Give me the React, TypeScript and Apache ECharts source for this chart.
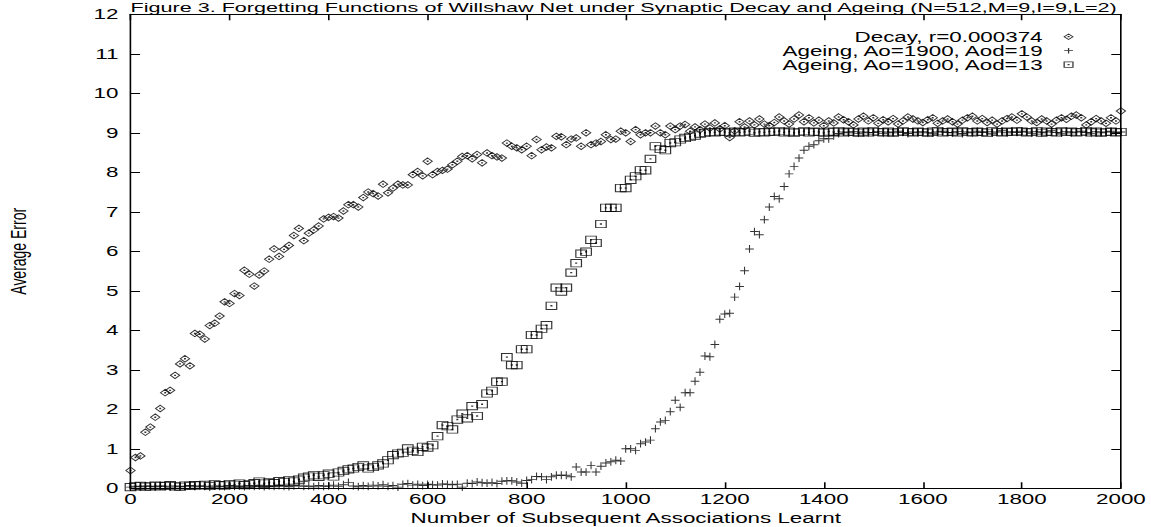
import React, { useEffect, useRef } from "react";
import * as echarts from "echarts";

// The reference image is horizontally stretched (fonts and markers are wider than tall),
// so the chart is drawn at a narrower width and stretched with a CSS scaleX.
const SX = 1.6;
const FULL_W = 1151;
const FULL_H = 527;
const W = FULL_W / SX;

const FONT = '"Liberation Sans", Arial, Helvetica, sans-serif';

const TITLE = "Figure 3. Forgetting Functions of Willshaw Net under Synaptic Decay and Ageing (N=512,M=9,I=9,L=2)";
const X_NAME = "Number of Subsequent Associations Learnt";
const Y_NAME = "Average Error";

const SERIES_NAMES = ["Decay, r=0.000374", "Ageing, Ao=1900, Aod=19", "Ageing, Ao=1900, Aod=13"];

// sampled every 10 associations, from 0 to 2000
const X_STEP = 10;

const decay = [
  0.45, 0.78, 0.82, 1.42, 1.55, 1.80, 2.02, 2.42, 2.48, 2.86,
  3.15, 3.28, 3.10, 3.92, 3.90, 3.78, 4.12, 4.18, 4.36, 4.72,
  4.68, 4.93, 4.88, 5.52, 5.42, 5.12, 5.40, 5.50, 5.80, 6.06,
  5.87, 6.05, 6.15, 6.40, 6.58, 6.27, 6.46, 6.54, 6.64, 6.82,
  6.86, 6.88, 6.84, 7.02, 7.18, 7.18, 7.12, 7.36, 7.50, 7.46,
  7.40, 7.70, 7.48, 7.60, 7.70, 7.68, 7.68, 7.94, 8.02, 7.91,
  8.28, 7.94, 8.02, 8.05, 8.08, 8.19, 8.28, 8.40, 8.42, 8.34,
  8.45, 8.24, 8.49, 8.42, 8.39, 8.36, 8.74, 8.66, 8.62, 8.57,
  8.66, 8.42, 8.83, 8.57, 8.64, 8.62, 8.91, 8.90, 8.70, 8.84,
  8.87, 8.66, 9.00, 8.70, 8.74, 8.78, 8.95, 8.83, 8.84, 9.04,
  9.00, 8.78, 9.08, 8.95, 9.00, 9.00, 9.17, 9.00, 8.95, 9.17,
  9.08, 9.17, 9.21, 9.04, 9.15, 9.08, 9.22, 9.12, 9.25, 9.10,
  9.18, 8.88, 9.05, 9.28, 9.15, 9.30, 9.20, 9.35, 9.22, 9.18,
  9.26, 9.40, 9.30, 9.22, 9.35, 9.45, 9.28, 9.38, 9.25, 9.32,
  9.18, 9.30, 9.25, 9.40, 9.33, 9.28, 9.20, 9.35, 9.42, 9.30,
  9.38, 9.24, 9.33, 9.28, 9.36, 9.22, 9.30, 9.40, 9.35, 9.30,
  9.26, 9.33, 9.38, 9.24, 9.30, 9.35, 9.28, 9.22, 9.32, 9.38,
  9.42, 9.30, 9.36, 9.26, 9.32, 9.22, 9.30, 9.36, 9.40, 9.32,
  9.48, 9.40, 9.30, 9.26, 9.35, 9.30, 9.22, 9.32, 9.38, 9.34,
  9.42, 9.45, 9.38, 9.20, 9.28, 9.36, 9.30, 9.24, 9.38, 9.30,
  9.55,
];

const ageing19 = [
  0.03, 0.05, 0.04, 0.06, 0.05, 0.04, 0.06, 0.05, 0.03, 0.06,
  0.04, 0.05, 0.07, 0.04, 0.06, 0.05, 0.03, 0.06, 0.05, 0.04,
  0.07, 0.05, 0.06, 0.04, 0.07, 0.05, 0.06, 0.04, 0.06, 0.05,
  0.07, 0.05, 0.04, 0.06, 0.08, 0.05, 0.06, 0.04, 0.07, 0.05,
  0.06, 0.08, 0.05, 0.09, 0.15, 0.06, 0.04, 0.07, 0.05, 0.08,
  0.06, 0.09, 0.05, 0.07, 0.03, 0.10, 0.12, 0.08, 0.10, 0.07,
  0.10, 0.09, 0.08, 0.11, 0.10, 0.09, 0.10, 0.03, 0.13, 0.12,
  0.16, 0.14, 0.13, 0.15, 0.12, 0.18, 0.19, 0.19, 0.16, 0.13,
  0.20, 0.22, 0.30, 0.29, 0.22, 0.29, 0.33, 0.33, 0.33, 0.29,
  0.54, 0.41, 0.41, 0.58, 0.41, 0.56, 0.64, 0.67, 0.71, 0.69,
  1.00, 1.00, 0.96, 1.13, 1.17, 1.22, 1.51, 1.68, 1.72, 1.94,
  2.23, 2.05, 2.42, 2.42, 2.71, 2.94, 3.35, 3.33, 3.64, 4.28,
  4.41, 4.43, 4.84, 5.11, 5.51, 6.06, 6.50, 6.42, 6.80, 7.12,
  7.39, 7.33, 7.64, 7.96, 8.15, 8.36, 8.56, 8.66, 8.70, 8.80,
  8.85, 8.85, 8.92, 8.98, 9.02, 9.00, 9.03, 8.99, 9.02, 9.00,
  9.01, 9.03, 8.99, 9.02, 9.00, 9.04, 9.01, 8.98, 9.02, 9.00,
  9.03, 9.00, 8.99, 9.02, 9.04, 9.01, 9.00, 9.03, 8.98, 9.02,
  9.00, 9.04, 9.01, 9.03, 8.99, 9.02, 9.05, 9.00, 9.03, 9.01,
  9.04, 9.02, 8.99, 9.03, 9.00, 9.02, 9.05, 9.01, 8.99, 9.03,
  9.00, 9.02, 9.04, 9.01, 8.99, 9.03, 9.00, 9.02, 9.04, 9.01,
  9.02,
];

const ageing13 = [
  0.03, 0.05, 0.06, 0.04, 0.05, 0.07, 0.05, 0.06, 0.08, 0.05,
  0.04, 0.07, 0.06, 0.08, 0.07, 0.09, 0.06, 0.10, 0.08, 0.07,
  0.11, 0.09, 0.12, 0.08, 0.11, 0.13, 0.17, 0.12, 0.15, 0.13,
  0.18, 0.16, 0.20, 0.17, 0.22, 0.27, 0.30, 0.33, 0.29, 0.33,
  0.37, 0.30, 0.40, 0.44, 0.48, 0.50, 0.54, 0.58, 0.50, 0.54,
  0.58, 0.63, 0.71, 0.84, 0.88, 0.90, 1.01, 0.95, 0.92, 1.05,
  1.03, 1.09, 1.32, 1.60, 1.57, 1.49, 1.74, 1.89, 1.77, 2.08,
  1.83, 2.13, 2.40, 2.47, 2.70, 2.70, 3.32, 3.12, 3.12, 3.52,
  3.52, 3.88, 3.88, 4.04, 4.13, 4.62, 5.08, 4.98, 5.08, 5.46,
  5.70, 5.94, 5.99, 6.29, 6.21, 6.69, 7.10, 7.10, 7.10, 7.60,
  7.60, 7.81, 7.90, 8.05, 8.05, 8.34, 8.66, 8.59, 8.56, 8.74,
  8.76, 8.83, 8.87, 8.90, 8.93, 8.98, 9.00, 9.02, 9.01, 9.03,
  9.02, 9.00, 9.03, 9.01, 9.02, 9.04, 9.00, 9.02, 9.01, 9.03,
  9.02, 9.04, 9.01, 9.03, 9.00, 9.02, 9.04, 9.01, 9.03, 9.02,
  9.00, 9.03, 9.02, 9.04, 9.01, 9.03, 9.02, 9.00, 9.03, 9.01,
  9.04, 9.02, 9.01, 9.03, 9.00, 9.02, 9.04, 9.02, 9.01, 9.03,
  9.02, 9.00, 9.03, 9.04, 9.01, 9.02, 9.03, 9.01, 9.04, 9.02,
  9.01, 9.03, 9.02, 9.00, 9.04, 9.02, 9.01, 9.03, 9.02, 9.04,
  9.03, 9.01, 9.02, 9.04, 9.00, 9.03, 9.02, 9.01, 9.04, 9.02,
  9.03, 9.01, 9.02, 9.04, 9.01, 9.03, 9.00, 9.02, 9.03, 9.01,
  9.02,
];

const X_MIN = 0, X_MAX = 2000, X_INTERVAL = 200;
const Y_MIN = 0, Y_MAX = 12, Y_INTERVAL = 1;

const DIAMOND = "path://M5,0L10,5L5,10L0,5Z M4.6,4.6L5.4,4.6L5.4,5.4L4.6,5.4Z";
const PLUS = "path://M0,5L10,5M5,0L5,10";
const SQUARE = "path://M0,0L10,0L10,10L0,10Z M4.6,4.6L5.4,4.6L5.4,5.4L4.6,5.4Z";

const toPairs = (vals: number[]) => vals.map((v, i) => [i * X_STEP, v]);

const GRID = { left: 130.5 / SX, right: 29.5 / SX, top: 14.3, bottom: 38.7 };

const markerStyle = { color: "transparent", borderColor: "#000", borderWidth: 0.8 };

function buildOption(): any {
  const axisCommon = {
    type: "value",
    axisLine: { show: true, onZero: false, lineStyle: { color: "#000", width: 1 } },
    axisTick: { show: true, inside: true, length: 6, lineStyle: { color: "#000", width: 1 } },
    splitLine: { show: false },
  };
  const labelStyle = { color: "#000", fontSize: 14, fontFamily: FONT };
  const plotCenterX = GRID.left + (W - GRID.left - GRID.right) / 2;
  return {
    animation: false,
    backgroundColor: "#fff",
    textStyle: { fontFamily: FONT },
    grid: { ...GRID, containLabel: false, outerBoundsMode: "none" },
    xAxis: [
      {
        ...axisCommon,
        position: "bottom",
        min: X_MIN, max: X_MAX, interval: X_INTERVAL,
        axisLabel: {
          ...labelStyle,
          margin: 4,
          showMinLabel: true,
          showMaxLabel: true,
          formatter: (v: number) => String(v),
        },
        name: X_NAME,
        nameLocation: "middle",
        nameGap: 19,
        nameTextStyle: { ...labelStyle },
      },
      {
        ...axisCommon,
        position: "top",
        min: X_MIN, max: X_MAX, interval: X_INTERVAL,
        axisLabel: { show: false },
      },
    ],
    yAxis: [
      {
        ...axisCommon,
        position: "left",
        min: Y_MIN, max: Y_MAX, interval: Y_INTERVAL,
        axisLabel: { ...labelStyle, margin: 7.5, formatter: (v: number) => String(v) },
        name: Y_NAME,
        nameLocation: "middle",
        nameRotate: 90,
        nameGap: 63.5,
        nameTextStyle: { ...labelStyle },
      },
      {
        ...axisCommon,
        position: "right",
        min: Y_MIN, max: Y_MAX, interval: Y_INTERVAL,
        axisLabel: { show: false },
      },
    ],
    legend: {
      orient: "vertical",
      right: 48,
      top: 29.7,
      align: "right",
      padding: 0,
      itemGap: 0,
      itemWidth: 22.5,
      itemHeight: 5.5,
      selectedMode: false,
      textStyle: { color: "#000", fontSize: 14, fontFamily: FONT, lineHeight: 13.5 },
      itemStyle: { ...markerStyle },
      data: [
        { name: SERIES_NAMES[0], icon: DIAMOND },
        { name: SERIES_NAMES[1], icon: PLUS },
        { name: SERIES_NAMES[2], icon: SQUARE },
      ],
    },
    graphic: [
      {
        type: "text",
        x: plotCenterX - 1.5,
        y: 0.5,
        silent: true,
        style: {
          text: TITLE,
          fill: "#000",
          fontSize: 13.5,
          fontFamily: FONT,
          align: "center",
          verticalAlign: "top",
        },
      },
    ],
    series: [
      {
        name: SERIES_NAMES[0],
        type: "scatter",
        symbol: DIAMOND,
        symbolSize: [5.8, 6.6],
        itemStyle: { ...markerStyle },
        data: toPairs(decay),
      },
      {
        name: SERIES_NAMES[1],
        type: "scatter",
        symbol: PLUS,
        symbolSize: [5.4, 7.8],
        itemStyle: { ...markerStyle },
        data: toPairs(ageing19),
      },
      {
        name: SERIES_NAMES[2],
        type: "scatter",
        symbol: SQUARE,
        symbolSize: [6.6, 7.3],
        itemStyle: { ...markerStyle },
        data: toPairs(ageing13),
      },
    ],
  };
}

export default function App() {
  const ref = useRef<HTMLDivElement>(null);
  useEffect(() => {
    if (!ref.current) return;
    const chart = echarts.init(ref.current, null, { renderer: "svg" });
    chart.setOption(buildOption());
    return () => chart.dispose();
  }, []);
  return (
    <div
      style={{
        position: "absolute",
        left: 0,
        top: 0,
        width: FULL_W,
        height: FULL_H,
        overflow: "hidden",
        background: "#fff",
      }}
    >
      <div
        ref={ref}
        style={{ width: W, height: FULL_H, transform: `scaleX(${SX})`, transformOrigin: "0 0" }}
      />
    </div>
  );
}
